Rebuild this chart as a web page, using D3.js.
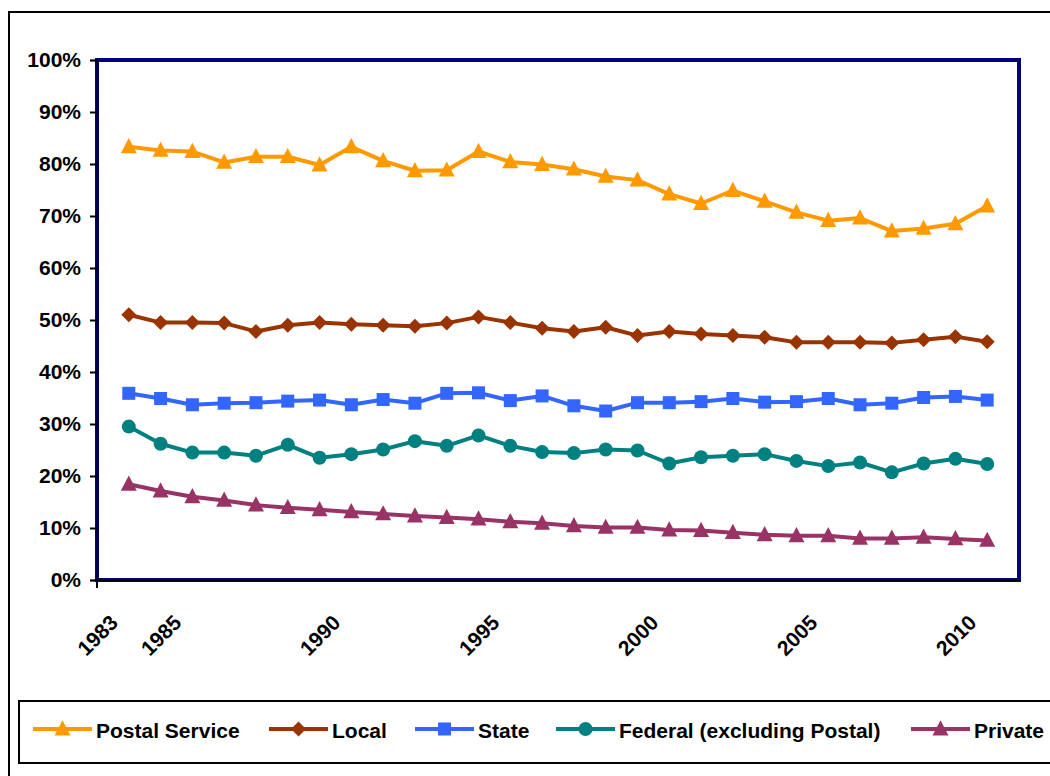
<!DOCTYPE html>
<html>
<head>
<meta charset="utf-8">
<script src="https://cdn.jsdelivr.net/npm/d3@7"></script>
<style>
  html, body { margin: 0; padding: 0; background: #fff; }
  svg { display: block; font-family: "Liberation Sans", Arial, sans-serif; font-weight: bold; }
</style>
</head>
<body>
<svg id="chart" width="1050" height="776"></svg>
<script>
// Share of workers by sector, 1983–2010 (percent)
const years = d3.range(1983, 2011);
const yTicks = [0, 10, 20, 30, 40, 50, 60, 70, 80, 90, 100];
const xTickYears = [1983, 1985, 1990, 1995, 2000, 2005, 2010];

const postalService = [83.3, 82.6, 82.4, 80.3, 81.4, 81.4, 79.8, 83.3, 80.6, 78.7, 78.8, 82.4, 80.4, 79.9,
                       79.0, 77.6, 76.9, 74.2, 72.4, 74.9, 72.8, 70.7, 69.1, 69.6, 67.1, 67.6, 68.5, 71.9];
const local = [51.0, 49.5, 49.5, 49.4, 47.8, 49.0, 49.5, 49.2, 49.0, 48.8, 49.4, 50.6, 49.5, 48.4,
               47.8, 48.6, 47.0, 47.8, 47.3, 47.0, 46.7, 45.7, 45.7, 45.7, 45.6, 46.2, 46.8, 45.8];
const state = [35.9, 34.9, 33.7, 34.0, 34.1, 34.4, 34.6, 33.7, 34.7, 34.0, 35.9, 36.0, 34.5, 35.4,
               33.5, 32.5, 34.1, 34.1, 34.3, 34.9, 34.2, 34.3, 34.9, 33.7, 34.0, 35.1, 35.3, 34.6];
const federal = [29.5, 26.2, 24.5, 24.5, 23.9, 26.0, 23.5, 24.2, 25.1, 26.7, 25.8, 27.8, 25.8, 24.6,
                 24.4, 25.1, 24.9, 22.4, 23.6, 23.9, 24.2, 22.9, 21.9, 22.6, 20.7, 22.4, 23.3, 22.3];
const privateSector = [18.4, 17.1, 16.0, 15.3, 14.4, 13.9, 13.5, 13.1, 12.7, 12.3, 12.0, 11.7, 11.2, 10.9,
                       10.4, 10.1, 10.1, 9.6, 9.5, 9.1, 8.7, 8.5, 8.5, 8.0, 8.0, 8.2, 7.9, 7.6];

const seriesNames = ["Postal Service", "Local", "State", "Federal (excluding Postal)", "Private"];
const seriesValues = [postalService, local, state, federal, privateSector];
const seriesColors = ["#FF9900", "#993300", "#3366FF", "#008080", "#993366"];
const seriesMarkers = ["triangle", "diamond", "square", "circle", "triangle"];

const svg = d3.select("#chart");

// Outer chart frame
svg.append("rect")
  .attr("x", 9).attr("y", 12).attr("width", 1060).attr("height", 780)
  .attr("fill", "#fff").attr("stroke", "#000").attr("stroke-width", 2);

const plot = { left: 97, right: 1019, top: 60, bottom: 580 };

const x = d3.scaleLinear().domain([1982, 2011]).range([plot.left, plot.right]);
const y = d3.scaleLinear().domain([0, 100]).range([plot.bottom, plot.top]);

// Plot area frame
svg.append("rect")
  .attr("x", plot.left).attr("y", plot.top)
  .attr("width", plot.right - plot.left).attr("height", plot.bottom - plot.top)
  .attr("fill", "#fff").attr("stroke", "#000080").attr("stroke-width", 4);

// Y axis
const yAxis = svg.append("g")
  .attr("transform", `translate(${plot.left},0)`)
  .call(d3.axisLeft(y).tickValues(yTicks).tickSize(7).tickPadding(9).tickFormat(d => d + "%"));
yAxis.select(".domain").attr("stroke", "#000").attr("stroke-width", 1.5);
yAxis.selectAll(".tick line").attr("stroke", "#000").attr("stroke-width", 2);
yAxis.selectAll(".tick text")
  .attr("fill", "#000").attr("font-size", 21).attr("font-weight", "bold")
  .attr("font-family", "'Liberation Sans', Arial, sans-serif");

// X axis labels (rotated), plus the corner tick
const xAxis = svg.append("g")
  .attr("transform", `translate(0,${plot.bottom})`)
  .call(d3.axisBottom(x).tickValues(xTickYears).tickSize(0).tickFormat(d3.format("d")));
xAxis.select(".domain").attr("stroke", "#000").attr("stroke-width", 1.5);
xAxis.selectAll(".tick text")
  .attr("fill", "#000").attr("font-size", 21).attr("font-weight", "bold")
  .attr("font-family", "'Liberation Sans', Arial, sans-serif")
  .attr("text-anchor", "end")
  .attr("dy", 0).attr("y", 0)
  .attr("transform", "translate(-10,44) rotate(-45)");
svg.append("line")
  .attr("x1", plot.left).attr("x2", plot.left)
  .attr("y1", plot.bottom).attr("y2", plot.bottom + 8)
  .attr("stroke", "#000").attr("stroke-width", 2);

// Marker shapes
function markerPath(type, s) {
  if (type === "triangle") {
    const h = s * 0.95;
    return `M0,${-h * 0.58}L${s / 2},${h * 0.42}L${-s / 2},${h * 0.42}Z`;
  }
  if (type === "diamond") {
    const r = s / 2;
    return `M0,${-r}L${r},0L0,${r}L${-r},0Z`;
  }
  if (type === "square") {
    const r = s / 2;
    return `M${-r},${-r}H${r}V${r}H${-r}Z`;
  }
  const r = s / 2;
  return `M${r},0A${r},${r} 0 1,1 ${-r},0A${r},${r} 0 1,1 ${r},0Z`;
}
const markerSize = { triangle: 16, diamond: 15, square: 13, circle: 14 };

const line = d3.line().x((d, i) => x(years[i])).y(d => y(d));

seriesValues.forEach((vals, k) => {
  const g = svg.append("g");
  g.append("path")
    .datum(vals)
    .attr("d", line)
    .attr("fill", "none")
    .attr("stroke", seriesColors[k])
    .attr("stroke-width", 4)
    .attr("stroke-linejoin", "round");
  g.selectAll("path.marker")
    .data(vals)
    .join("path")
    .attr("class", "marker")
    .attr("transform", (d, i) => `translate(${x(years[i])},${y(d)})`)
    .attr("d", markerPath(seriesMarkers[k], markerSize[seriesMarkers[k]]))
    .attr("fill", seriesColors[k]);
});

// Legend
svg.append("rect")
  .attr("x", 19).attr("y", 701).attr("width", 1050).attr("height", 62)
  .attr("fill", "#fff").attr("stroke", "#000").attr("stroke-width", 2);

const legendX = [33, 269, 415, 556, 911];
const legendY = 729;
seriesNames.forEach((name, k) => {
  const g = svg.append("g").attr("transform", `translate(${legendX[k]},${legendY})`);
  g.append("line")
    .attr("x1", 0).attr("x2", 59).attr("y1", 0).attr("y2", 0)
    .attr("stroke", seriesColors[k]).attr("stroke-width", 4);
  g.append("path")
    .attr("transform", "translate(29.5,0)")
    .attr("d", markerPath(seriesMarkers[k], markerSize[seriesMarkers[k]]))
    .attr("fill", seriesColors[k]);
  g.append("text")
    .attr("x", 63).attr("y", 9)
    .attr("font-size", 21).attr("font-weight", "bold")
    .attr("fill", "#000")
    .text(name);
});
</script>
</body>
</html>
